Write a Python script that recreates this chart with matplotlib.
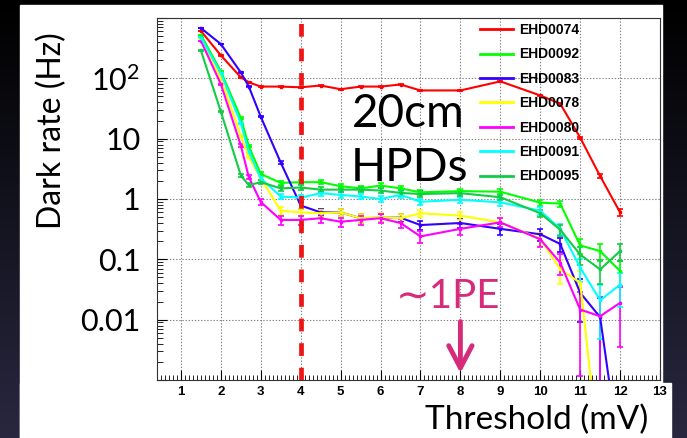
import numpy as np
import matplotlib.pyplot as plt
from matplotlib.colors import LinearSegmentedColormap
from matplotlib.lines import Line2D
from matplotlib.patches import Rectangle
from matplotlib.ticker import MultipleLocator, LogLocator, NullFormatter

plt.rcParams['font.family'] = ['Lato', 'DejaVu Sans']
plt.rcParams['mathtext.fontset'] = 'custom'
plt.rcParams['mathtext.rm'] = 'Lato'

W, H = 687, 438

# threshold scan points (mV)
threshold = [1.5, 2, 2.5, 2.7, 3, 3.5, 4, 4.5, 5, 5.5, 6, 6.5, 7, 8, 9, 10, 10.5, 11, 11.5, 12]

# dark rates (Hz)
ehd0074 = [610, 240, 104, 86, 73, 73, 71, 76, 66, 73, 73, 79, 63, 63, 89, 52, 38, 10.4, 2.4, 0.6]
ehd0092 = [525, 130, 22, 7.5, 2.6, 1.85, 1.9, 1.9, 1.63, 1.5, 1.67, 1.5, 1.29, 1.35, 1.32, 0.87, 0.84, 0.17, 0.137, 0.064]
ehd0083 = [680, 370, 125, 73, 23, 4.0, 0.78, 0.6, 0.6, 0.48, 0.49, 0.49, 0.37, 0.40, 0.32, 0.26, 0.18, 0.028, 0.011, 5e-5]
ehd0078 = [450, 100, 11, 5.0, 2.2, 0.64, 0.6, 0.58, 0.6, 0.48, 0.5, 0.48, 0.58, 0.53, 0.41, 0.22, 0.068, 0.041, 4e-5, 1e-5]
ehd0080 = [420, 80, 7.7, 2.3, 0.89, 0.45, 0.45, 0.48, 0.42, 0.45, 0.48, 0.40, 0.24, 0.32, 0.41, 0.215, 0.088, 0.0147, 0.0114, 0.019]
ehd0091 = [475, 121, 18, 6.0, 2.2, 1.1, 1.05, 1.25, 1.17, 1.1, 1.0, 1.17, 0.9, 0.97, 0.88, 0.64, 0.32, 0.073, 0.021, 0.038]
ehd0095 = [290, 28, 2.45, 1.7, 1.9, 1.5, 1.55, 1.43, 1.43, 1.43, 1.38, 1.26, 1.21, 1.25, 1.07, 0.58, 0.31, 0.12, 0.068, 0.137]

names = ['EHD0074', 'EHD0092', 'EHD0083', 'EHD0078', 'EHD0080', 'EHD0091', 'EHD0095']
colors = ['#ff0000', '#00ff00', '#3300ff', '#ffff00', '#ff00ff', '#00ffff', '#11cc44']
rates = [ehd0074, ehd0092, ehd0083, ehd0078, ehd0080, ehd0091, ehd0095]

live_time = 80.0  # s per point, for poisson error bars

ytick_vals = [1e-3, 1e-2, 0.1, 1, 10, 100, 1e3]
ytick_labels = ['', '0.01', '0.1', '1', '10', r'$\mathregular{10^2}$', '']
xtick_vals = list(range(1, 14))

pink = '#d62a7a'

fig = plt.figure(figsize=(W / 100, H / 100), dpi=100)

# dark slide background with the white plot panel on top
bg = fig.add_axes([0, 0, 1, 1])
bg.set_axis_off()
slide = LinearSegmentedColormap.from_list('slide', ['#000000', '#28273f'])
bg.imshow(np.linspace(0, 1, 200).reshape(-1, 1), cmap=slide,
          extent=[0, 1, 0, 1], aspect='auto')
bg.add_patch(Rectangle((20 / W, 0), (662 - 20) / W, (H - 5) / H, color='white'))
bg.add_patch(Rectangle((20 / W, 0), (671 - 20) / W, (H - 383) / H, color='white'))
bg.set_xlim(0, 1)
bg.set_ylim(0, 1)

ax = fig.add_axes([157 / W, 58 / H, 503 / W, 362 / H])
ax.set_facecolor('white')
ax.set_yscale('log')

for name, col, r in zip(names, colors, rates):
    r = np.array(r)
    err = np.sqrt(r / live_time)
    ax.errorbar(threshold, r, yerr=err, color=col, lw=1.5, marker='s', ms=1.6,
                elinewidth=1.2, capsize=2, capthick=1.2)

ax.set_xlim(0.4, 13)
ax.set_ylim(1e-3, 1e3)

# ticks
ax.set_xticks(xtick_vals)
ax.xaxis.set_minor_locator(MultipleLocator(0.1))
ax.set_yticks(ytick_vals, ytick_labels)
ax.yaxis.set_minor_locator(LogLocator(base=10, subs=np.arange(2, 10)))
ax.yaxis.set_minor_formatter(NullFormatter())
ax.tick_params(axis='x', which='both', direction='in', top=False, bottom=True)
ax.tick_params(axis='x', which='major', length=7, width=0.8, labelsize=9.5, pad=4)
ax.tick_params(axis='x', which='minor', length=3.5, width=0.6)
ax.tick_params(axis='y', which='both', direction='in', right=False, left=True)
ax.tick_params(axis='y', which='major', length=7, width=0.8, labelsize=22, pad=12)
ax.tick_params(axis='y', which='minor', length=4, width=0.6)
for lbl in ax.get_xticklabels():
    lbl.set_fontfamily('Liberation Sans')
    lbl.set_fontweight('bold')

ax.grid(True, which='major', color='#808080', ls=(0, (1.2, 1.6)), lw=0.8)
for s in ax.spines.values():
    s.set_color('#333333')
    s.set_linewidth(0.8)

# 4 mV cut
ax.axvline(4, color='#ee1515', lw=3.4, ls=(0, (2.7, 2.5)), zorder=5)

ax.text(6.7, 15.8, '20cm', fontsize=33, ha='center', va='baseline', zorder=6)
ax.text(6.72, 2.0, 'HPDs', fontsize=33, ha='center', va='baseline', zorder=6)
ax.text(7.69, 0.0158, '\u223c1PE', fontsize=29, color=pink, ha='center', va='baseline',
        zorder=6, family=['Lato', 'DejaVu Sans'])
ax.annotate('', xy=(8, 0.0013), xytext=(8, 0.0093),
            arrowprops=dict(arrowstyle='->,head_length=0.8,head_width=0.42', color=pink,
                            lw=3.5, mutation_scale=20, shrinkA=0, shrinkB=0))

handles = [Line2D([], [], color=c, lw=2) for c in colors]
ax.legend(handles, names, loc='upper left', bbox_to_anchor=(480 / W, 1 - 23 / H),
          bbox_transform=fig.transFigure, frameon=False,
          prop=dict(family='Liberation Sans', weight='bold', size=10),
          handlelength=2.35, handletextpad=0.5, labelspacing=0.75,
          borderpad=0, borderaxespad=0)

ax.set_ylabel('Dark rate (Hz)', fontsize=23, va='center')
ax.yaxis.set_label_coords(-0.209, 0.688)
ax.set_xlabel('Threshold (mV)', fontsize=24, ha='right', va='baseline')
ax.xaxis.set_label_coords(0.976, -0.135)

fig.savefig('out.png', dpi=100)
